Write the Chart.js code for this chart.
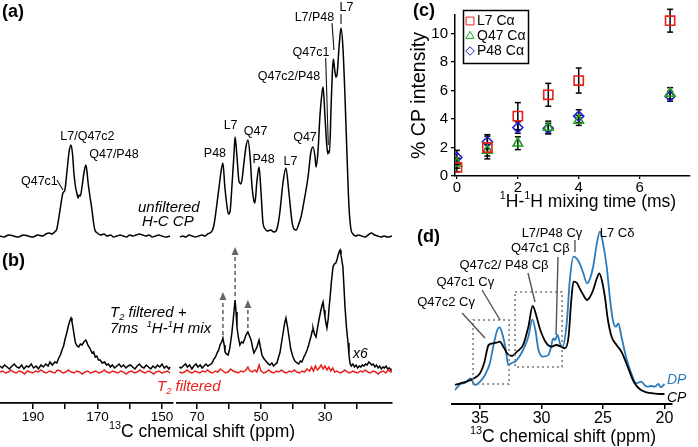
<!DOCTYPE html>
<html><head><meta charset="utf-8">
<script src="https://cdn.jsdelivr.net/npm/chart.js@4.4.1/dist/chart.umd.min.js"></script>
<style>
html,body{margin:0;padding:0;background:#fff;width:698px;height:447px;overflow:hidden}
canvas{position:absolute}
</style></head><body>
<canvas id="cL" width="400" height="447" style="left:0;top:0"></canvas>
<canvas id="cR" width="400" height="447" style="left:0;top:0"></canvas>
<canvas id="cC" width="298" height="230" style="left:400px;top:0"></canvas>
<canvas id="cD" width="298" height="222" style="left:400px;top:225px"></canvas>
<script>
// ---------------- DATA ----------------
// Panel (a): unfiltered H-C CP spectrum, [ppm, intensity]
const aLeft = [[200.2,1],[199,0],[197.5,2],[196,1],[194.5,0],[193,2],[191.5,1],[190,0],[188.5,2],[187,1],[186,3],[185,4],[184,3],[183.3,5],[182.6,8],[181.6,27],[180.7,44],[180.1,47],[179.5,64],[178.8,85],[178.2,92],[177.7,82],[177.3,64],[176.8,50],[176.4,44],[176.0,39],[175.7,42],[175.3,41],[174.8,50],[174.2,64],[173.6,72],[173.2,64],[172.9,54],[172.3,40],[171.7,27],[171.2,14],[170.8,7],[170,4],[169,2],[168,3],[167,1],[166,2],[165,0],[164,1],[163,2],[162,1],[161,0],[160,2],[159,1],[158,2],[157,3],[156,2],[155,1],[154,2],[153,0],[152,1],[151,2],[150,1],[149,0],[147.5,1]];
const aRight = [[75.3,0],[74.5,1],[73.5,0],[72.5,2],[71.5,1],[70.5,0],[69.5,1],[68.5,2],[67.5,1],[66.7,3],[66,4],[65.3,6],[64.7,12],[64.1,25],[63.1,50],[62.5,65],[61.9,74],[61.3,50],[60.6,30],[60.2,23],[59.7,25],[59.1,50],[58.4,85],[58.1,100],[57.5,80],[56.9,56],[56.6,54],[56.3,53],[55.9,58],[55.3,75],[54.7,90],[54.1,97],[53.4,80],[52.8,50],[52.2,36],[51.9,34],[51.3,55],[50.6,70],[50.0,45],[49.4,15],[48.7,8],[48,6],[47,7],[46,5],[45.3,6],[44.6,14],[44.1,25],[43.1,55],[42.2,69],[41.3,45],[40.3,15],[39.7,8],[39,7],[38.3,12],[37.5,20],[36.6,35],[35.3,60],[34.4,85],[33.75,90],[33.1,80],[32.8,70],[32.2,85],[31.6,120],[30.9,145],[30.6,150],[30.0,120],[29.4,90],[29.1,83],[28.9,86],[28.6,84],[28.1,130],[27.7,165],[27.4,178],[27.0,168],[26.6,160],[26.25,162],[25.6,190],[25.0,209],[24.4,190],[23.75,140],[23.1,80],[22.5,30],[21.9,8],[21.25,3],[20.5,1],[19.5,2],[18.5,1],[17.5,0],[16.5,2],[15.5,4],[14.5,2],[13.5,1],[12.5,0],[11.5,1],[10.5,0],[9,1]];
// Panel (b): T2 filtered + 7 ms 1H-1H mix (x6), [ppm, intensity]
const bLeft = [[200.2,1],[199.5,-1],[198.8,2],[198,0],[197.3,-2],[196.5,1],[195.8,3],[195,0],[194.3,-1],[193.5,2],[192.8,-2],[192,1],[191.3,0],[190.5,3],[189.8,-1],[189,1],[188.3,-2],[187.5,2],[186.8,0],[186,3],[185.3,1],[184.7,5],[184,2],[183.2,5],[182.6,4],[182,9],[181.5,12],[181,17],[180.5,21],[180.1,27],[179.6,33],[179.1,40],[178.6,46],[178.2,49],[177.9,45],[177.6,40],[177.2,31],[176.8,24],[176.3,21],[175.8,20],[175.3,23],[174.8,22],[174.2,25],[173.6,27],[173.3,25],[173,22],[172.4,19],[171.7,14],[171.2,15],[170.7,10],[170.2,11],[169.7,7],[169.2,7],[168.5,4],[167.8,5],[167.2,2],[166.6,3],[166,0],[165.4,2],[164.7,-1],[164,1],[163.3,3],[162.6,0],[161.9,2],[161.2,-1],[160.5,1],[159.8,2],[159.1,0],[158.4,-2],[157.7,1],[157,3],[156.3,0],[155.6,-1],[154.9,2],[154.2,0],[153.5,-2],[152.8,1],[152.1,-1],[151.4,2],[150.7,0],[150,3],[149.3,-1],[148.6,1],[147.9,-2],[147.5,0]];
const bRight = [[75.5,0],[75,-1],[74.3,1],[73.6,3],[73,0],[72.3,2],[71.6,-2],[71,1],[70.3,3],[69.7,0],[69,2],[68.4,-1],[67.8,1],[67.2,3],[66.6,1],[66,2],[65.3,4],[64.7,8],[64.2,10],[63.75,14],[63.2,17],[62.8,22],[62.3,25],[61.9,29],[61.5,22],[61.25,15],[60.8,13],[60.3,12],[59.8,18],[59.4,27],[59.1,34],[58.6,50],[58.1,67],[57.8,55],[57.5,40],[57.1,30],[56.6,22],[56.1,25],[55.6,24],[55.1,28],[54.7,32],[54.1,35],[53.6,31],[53.1,27],[52.6,19],[52.2,14],[51.7,17],[51.25,20],[50.9,24],[50.6,27],[50.2,20],[49.7,12],[49.2,9],[48.75,7],[48.2,5],[47.7,3],[47.2,2],[46.6,4],[46.1,1],[45.5,3],[45,4],[44.6,9],[44.1,14],[43.6,24],[43.1,34],[42.6,44],[42.2,49],[41.7,40],[41.25,30],[40.7,18],[40,10],[39.4,6],[38.75,4],[38.2,3],[37.7,6],[37.2,5],[36.6,10],[36.1,13],[35.6,17],[35.1,22],[34.7,27],[34.4,30],[34.0,36],[33.75,39],[33.3,33],[32.8,30],[32.4,38],[31.9,47],[31.4,55],[30.9,62],[30.6,65],[30.3,57],[30.0,50],[29.7,44],[29.4,39],[29.0,48],[28.7,60],[28.4,70],[28.0,85],[27.5,100],[27.1,103],[26.6,104],[26.2,108],[25.9,112],[25.6,115],[25.3,117],[25.0,112],[24.7,106],[24.4,100],[24.1,82],[23.75,60],[23.3,40],[22.8,24],[22.5,12],[22.2,4],[21.8,1],[21.3,3],[20.8,0],[20.3,2],[19.8,-1],[19.3,1],[18.8,0],[18.3,2],[17.8,1],[17.3,3],[16.8,2],[16.3,5],[15.9,4],[15.4,2],[14.9,3],[14.4,0],[13.9,2],[13.4,-1],[12.9,1],[12.4,-2],[11.9,0],[11.4,-1],[10.9,1],[10.4,-2],[9.9,-1],[9.4,-3],[9,-2]];
// Panel (b): T2 filtered only (red)
const t2Left = [[200.2,-5],[199.3,-4],[198.5,-6],[197.6,-5],[196.8,-3],[196,-5],[195.1,-6],[194.3,-4],[193.4,-5],[192.6,-7],[191.7,-4],[190.9,-5],[190,-6],[189.2,-4],[188.3,-5],[187.5,-3],[186.6,-5],[185.8,-6],[184.9,-4],[184.1,-5],[183.2,-6],[182.4,-3],[181.5,-4],[180.7,-6],[179.8,-5],[179,-3],[178.1,-5],[177.3,-6],[176.4,-4],[175.6,-5],[174.7,-7],[173.9,-5],[173,-4],[172.2,-6],[171.3,-5],[170.5,-4],[169.6,-6],[168.8,-5],[167.9,-3],[167.1,-5],[166.2,-6],[165.4,-4],[164.5,-5],[163.7,-6],[162.8,-4],[162,-5],[161.1,-7],[160.3,-5],[159.4,-4],[158.6,-6],[157.7,-5],[156.9,-3],[156,-5],[155.2,-6],[154.3,-4],[153.5,-5],[152.6,-7],[151.8,-5],[150.9,-4],[150.1,-6],[149.2,-5],[148.4,-4],[147.5,-6]];
const t2Right = [[75.5,-5],[74.7,-6],[73.9,-5],[73.1,-3],[72.3,-5],[71.5,-6],[70.7,-4],[69.9,-5],[69.1,-6],[68.3,-4],[67.5,-5],[66.7,-3],[65.9,-5],[65.1,-6],[64.3,-4],[63.5,-5],[62.7,-2],[61.9,-4],[61.1,-6],[60.3,-5],[59.5,-2],[58.7,-4],[57.9,-5],[57.1,-6],[56.3,-4],[55.5,-5],[54.7,-3],[54.1,0],[53.5,-4],[52.7,-5],[51.9,-3],[51.3,-5],[50.6,2],[50.0,-4],[49.2,-6],[48.4,-5],[47.6,-3],[46.8,-5],[46,-6],[45.2,-4],[44.4,-5],[43.6,-3],[42.8,-5],[42,-6],[41.2,-4],[40.4,-5],[39.6,-3],[38.8,-5],[38,-6],[37.2,-4],[36.4,-5],[35.6,-2],[34.8,-4],[34.2,0],[33.6,-4],[33,1],[32.4,-3],[31.8,-1],[31.2,2],[30.6,-2],[30,1],[29.4,-3],[28.8,0],[28.2,-4],[27.6,-1],[27,-5],[26.2,-4],[25.4,-6],[24.6,-5],[23.8,-3],[23,-5],[22.2,-6],[21.4,-4],[20.6,-5],[19.8,-6],[19,-4],[18.2,-5],[17.4,-3],[16.6,-5],[15.8,-6],[15,-4],[14.2,-5],[13.4,-7],[12.6,-5],[11.8,-4],[11,-6],[10.2,-3],[9.4,-5],[9,-2]];
// Panel (b) arrows: ppm, filtered height, unfiltered height
const arrowPpm = [61.9, 58.1, 54.1];
const arrowFrom = [30, 69, 37];
const arrowTo = [75, 120, 67];
// Panel (c): % CP intensity vs mixing time
const mixTime = [0, 1, 2, 3, 4, 7];
const L7ca = [0.6, 2.0, 4.2, 5.7, 6.7, 10.9];
const Q47ca = [0.9, 1.8, 2.3, 3.4, 3.9, 5.8];
const P48ca = [1.3, 2.4, 3.4, 3.35, 4.2, 5.6];
const L7err = [0.3, 0.8, 0.95, 0.8, 0.88, 0.8];
const Q47err = [0.35, 0.4, 0.45, 0.45, 0.35, 0.4];
const P48err = [0.5, 0.5, 0.4, 0.35, 0.45, 0.35];
// Panel (d): CP and DP spectra, [ppm, intensity]
const dCP = [[37.03,19],[36.6,20.7],[36.1,22.3],[35.5,25.7],[35.0,30.7],[34.67,40.7],[34.3,59],[33.9,60.7],[33.65,61.3],[33.4,62.3],[33.1,57.3],[32.8,50.7],[32.4,48],[32.0,52.3],[31.5,59],[31.07,77.3],[30.72,98],[30.4,87.3],[30.1,74],[29.6,60.7],[29.2,57.3],[28.8,59],[28.4,57.3],[28.1,55.7],[27.8,67.3],[27.6,100.7],[27.4,122.3],[27.1,120.7],[26.9,115.7],[26.6,109],[26.3,104],[26.05,107.3],[25.8,114],[25.5,125.7],[25.3,130.7],[25.1,124],[24.85,107.3],[24.6,84],[24.3,67.3],[23.9,59],[23.5,52.3],[23.1,40.7],[22.5,22.3],[22.0,14.7],[21.45,11.7],[20.9,10.7],[20.4,10],[20.0,10]];
const dDP = [[37.03,14],[36.6,20],[36.2,21.3],[35.8,25.7],[35.4,19],[35.0,22.3],[34.6,29],[34.2,40.7],[33.9,59],[33.6,74],[33.4,76.7],[33.2,70.7],[32.9,54],[32.7,39],[32.4,41.3],[32.15,42.3],[31.9,45.7],[31.5,54],[31.07,67.3],[30.75,84.7],[30.5,74],[30.25,54],[29.85,47.3],[29.45,49],[29.25,55.7],[29.05,65.7],[28.9,64],[28.7,69],[28.5,60.7],[28.3,57.3],[27.95,80.7],[27.7,124],[27.4,147.3],[27.15,145.7],[26.9,140.7],[26.6,130.7],[26.3,120.7],[26.1,124],[25.8,137.3],[25.5,160.7],[25.25,172.3],[25.0,160.7],[24.7,137.3],[24.45,107.3],[24.2,84],[23.95,77.3],[23.75,80.7],[23.5,67.3],[23.1,45.7],[22.7,30.7],[22.3,20.7],[21.9,22.3],[21.45,17.3],[21.05,18],[20.8,17.3],[20.5,20],[20.3,16.7],[20.0,20]];
// Tick values
const abTicksLeft = [190, 180, 170, 160, 150];
const abTicksRight = [70, 60, 50, 40, 30, 20];
const abTickLabels = [190, 170, 150, 70, 50, 30];
const cXTicks = [0, 2, 4, 6];
const cYTicks = [0, 2, 4, 6, 8, 10];
const dTicks = [35, 30, 25, 20];

// ---------------- ANNOTATION PLACEMENT ----------------
const aLeftPeakLabels = [['Q47c1',188.0,55],['L7/Q47c2',173.1,100],['Q47/P48',164.9,82]];
const aLeftLeaders = [[182.56,57,180.7,47]];
const aRightPeakLabels = [['P48',64.4,83],['L7',59.5,111],['Q47',51.7,105],['P48',49.2,77],['L7',40.8,75],['Q47',36.25,99],['Q47c2/P48',41.25,160],['Q47c1',34.4,184],['L7/P48',33.3,219],['L7',23.3,229]];
const aRightLeaders = [[29.78,179,28.97,92],[27.8,214,27.2,187],[25.0,223,25.0,213]];
const dLabels = [['L7/P48 C\u03b3',29.15,171],['L7 C\u03b4',23.86,171],['Q47c1 C\u03b2',30.1,156],['Q47c2/ P48 C\u03b2',33.05,139],['Q47c1 C\u03b3',36.2,122],['Q47c2 C\u03b3',37.76,102]];
const dLeaders = [[36.46,91,34.6,66],[34.84,114,33.37,84],[31.1,131,30.53,102],[28.66,147,28.82,69],[27.28,164,27.28,152]];
const dBoxes = [[35.57,84,32.64,20],[32.15,112,28.33,37]];

// ---------------- HELPERS ----------------
const FONT = "'Liberation Sans', Arial, Helvetica, sans-serif";
Chart.defaults.font.family = FONT;
Chart.defaults.color = '#000';
Chart.defaults.animation = false;
const RED = '#e8201a', GREEN = '#1f9e1f', BLUE = '#1c1cc8', DPBLUE = '#2a7bbb';

function parseRich(s){
  const out=[]; const re=/\^\{([^}]*)\}|_\{([^}]*)\}|([^^_]+)/g; let m;
  while((m=re.exec(s))){ if(m[1]!==undefined) out.push({t:m[1],sup:true}); else if(m[2]!==undefined) out.push({t:m[2],sub:true}); else out.push({t:m[3]}); }
  return out;
}
function richText(ctx, str, x, y, size, o={}){
  const align=o.align||'left', style=(o.italic?'italic ':'')+(o.bold?'bold ':'');
  const segs=parseRich(str);
  const parts=segs.map(s=>{const sz=(s.sup||s.sub)?size*0.62:size; ctx.font=style+sz+'px '+FONT; return {s,sz,w:ctx.measureText(s.t).width};});
  const total=parts.reduce((a,p)=>a+p.w,0);
  let cx = align==='center'? x-total/2 : align==='right'? x-total : x;
  ctx.save(); ctx.fillStyle=o.color||'#000'; ctx.textBaseline='middle'; ctx.textAlign='left';
  for(const p of parts){ ctx.font=style+p.sz+'px '+FONT; const dy=p.s.sup?-size*0.32:p.s.sub?size*0.3:0; ctx.fillText(p.s.t,cx,y+dy); cx+=p.w; }
  ctx.restore();
}
function line(ctx,x1,y1,x2,y2,color,w,dash){
  ctx.save(); ctx.strokeStyle=color; ctx.lineWidth=w; if(dash) ctx.setLineDash(dash);
  ctx.beginPath(); ctx.moveTo(x1,y1); ctx.lineTo(x2,y2); ctx.stroke(); ctx.restore();
}
const xy = arr => arr.map(p=>({x:p[0],y:p[1]}));
function specDs(arr, axis, color, smooth){
  return {data:xy(arr), yAxisID:axis, borderColor:color, borderWidth:1.5, pointRadius:0, fill:false,
    tension: 0, cubicInterpolationMode: smooth?'monotone':'default'};
}
function abXScale(min,max,ticks){
  return {type:'linear', reverse:true, min, max, position:'bottom',
    afterBuildTicks:s=>{s.ticks=ticks.map(v=>({value:v}));},
    afterFit:s=>{s.height=44;},
    grid:{drawOnChartArea:false, drawTicks:true, tickLength:6, color:'#000', lineWidth:1.5},
    border:{display:true, color:'#000', width:1.8},
    ticks:{autoSkip:false, maxRotation:0, padding:0, font:{size:13.5}, color:'#000',
      callback:v=>abTickLabels.includes(v)?String(v):''}};
}
const hiddenY = (min,max)=>({display:false, min, max});

// ---------------- PANEL (a)/(b) LEFT ----------------
new Chart(document.getElementById('cL'), {
  type:'line',
  data:{datasets:[specDs(t2Left,'yb',RED,false), specDs(bLeft,'yb','#000',false), specDs(aLeft,'ya','#000',true)]},
  options:{responsive:false, animation:false, events:[],
    layout:{padding:{left:0,right:227,top:0,bottom:0}},
    scales:{x:abXScale(146.6,200.2,abTicksLeft), ya:hiddenY(-166,237), yb:hiddenY(-36,367)},
    plugins:{legend:{display:false}, tooltip:{enabled:false}}},
  plugins:[{id:'annL', afterDraw(chart){
    const ctx=chart.ctx, x=chart.scales.x, ya=chart.scales.ya;
    aLeftPeakLabels.forEach(l=>richText(ctx,l[0],x.getPixelForValue(l[1]),ya.getPixelForValue(l[2]),12.5,{align:'center'}));
    aLeftLeaders.forEach(l=>line(ctx,x.getPixelForValue(l[0]),ya.getPixelForValue(l[1]),x.getPixelForValue(l[2]),ya.getPixelForValue(l[3]),'#111',1.1));
    richText(ctx,'(a)',2,12,18,{bold:true});
    richText(ctx,'(b)',2,261,18,{bold:true});
    richText(ctx,'unfiltered',138,208,15,{italic:true});
    richText(ctx,'H-C CP',142,222,15,{italic:true});
    richText(ctx,'T_{2} filtered +',110,313,15,{italic:true});
    richText(ctx,'7ms  ^{1}H-^{1}H mix',110,329,15,{italic:true});
    richText(ctx,'T_{2} filtered',157,387,15,{italic:true,color:RED});
    richText(ctx,'^{13}C chemical shift (ppm)',202,432,17.5,{align:'center'});
  }}]
});

// ---------------- PANEL (a)/(b) RIGHT ----------------
new Chart(document.getElementById('cR'), {
  type:'line',
  data:{datasets:[specDs(t2Right,'yb',RED,false), specDs(bRight,'yb','#000',false), specDs(aRight,'ya','#000',true)]},
  options:{responsive:false, animation:false, events:[],
    layout:{padding:{left:177,right:8,top:0,bottom:0}},
    scales:{x:abXScale(9.06,76.25,abTicksRight), ya:hiddenY(-166,237), yb:hiddenY(-36,367)},
    plugins:{legend:{display:false}, tooltip:{enabled:false}}},
  plugins:[{id:'annR', afterDraw(chart){
    const ctx=chart.ctx, x=chart.scales.x, ya=chart.scales.ya, yb=chart.scales.yb;
    aRightPeakLabels.forEach(l=>richText(ctx,l[0],x.getPixelForValue(l[1]),ya.getPixelForValue(l[2]),12.5,{align:'center'}));
    aRightLeaders.forEach(l=>line(ctx,x.getPixelForValue(l[0]),ya.getPixelForValue(l[1]),x.getPixelForValue(l[2]),ya.getPixelForValue(l[3]),'#111',1.1));
    arrowPpm.forEach((p,i)=>{
      const px=x.getPixelForValue(p), y1=yb.getPixelForValue(arrowFrom[i]), y2=yb.getPixelForValue(arrowTo[i]);
      line(ctx,px,y1-2,px,y2+6,'#666',1.6,[4,3]);
      ctx.save(); ctx.fillStyle='#666'; ctx.beginPath(); ctx.moveTo(px,y2); ctx.lineTo(px-3.5,y2+8); ctx.lineTo(px+3.5,y2+8); ctx.closePath(); ctx.fill(); ctx.restore();
    });
    richText(ctx,'x6',353,354,14,{italic:true});
  }}]
});

// ---------------- PANEL (c) ----------------
const errorBarPlugin = {id:'errbars', beforeDatasetsDraw(chart){
  const ctx=chart.ctx, xs=chart.scales.x, ys=chart.scales.y;
  chart.data.datasets.forEach(ds=>{
    ds.data.forEach((pt,i)=>{
      const e=ds.errors[i], px=xs.getPixelForValue(pt.x), yt=ys.getPixelForValue(pt.y+e), yl=ys.getPixelForValue(pt.y-e);
      line(ctx,px,yt,px,yl,'#000',1.5); line(ctx,px-3,yt,px+3,yt,'#000',1.5); line(ctx,px-3,yl,px+3,yl,'#000',1.5);
    });
  });
}};
function cDs(label,vals,errs,color,style,r){
  return {label, data:mixTime.map((t,i)=>({x:t,y:vals[i]})), errors:errs, pointStyle:style, pointRadius:r,
    pointBorderColor:color, borderColor:color, pointBackgroundColor:'rgba(255,255,255,0)', backgroundColor:'rgba(255,255,255,0)',
    pointBorderWidth:1.6, showLine:false};
}
new Chart(document.getElementById('cC'), {
  type:'scatter',
  data:{datasets:[cDs('L7 C\u03b1',L7ca,L7err,RED,'rect',6.5), cDs('Q47 C\u03b1',Q47ca,Q47err,GREEN,'triangle',5.5), cDs('P48 C\u03b1',P48ca,P48err,BLUE,'rectRot',5)]},
  options:{responsive:false, animation:false, events:[],
    layout:{padding:{left:0,right:0,top:15,bottom:0}},
    scales:{
      x:{type:'linear', min:-0.063, max:7.65,
        afterBuildTicks:s=>{s.ticks=cXTicks.map(v=>({value:v}));}, afterFit:s=>{s.height=54;},
        grid:{drawOnChartArea:false, tickLength:3, color:'#000', lineWidth:1.3},
        border:{color:'#000', width:1.5},
        ticks:{padding:0, font:{size:15}, color:'#000', maxRotation:0, autoSkip:false}},
      y:{type:'linear', min:0, max:11.3,
        afterBuildTicks:s=>{s.ticks=cYTicks.map(v=>({value:v}));}, afterFit:s=>{s.width=55;},
        grid:{drawOnChartArea:false, tickLength:4, color:'#000', lineWidth:1.3},
        border:{color:'#000', width:1.5},
        ticks:{padding:3, font:{size:15}, color:'#000'},
        title:{display:true, text:'% CP intensity', font:{size:19.5}, color:'#000', padding:{top:8,bottom:0}}}
    },
    plugins:{legend:{display:false}, tooltip:{enabled:false}}},
  plugins:[errorBarPlugin, {id:'annC', afterDraw(chart){
    const ctx=chart.ctx;
    ctx.save(); ctx.strokeStyle='#000'; ctx.lineWidth=1.5; ctx.strokeRect(63.5,10.5,65,53); ctx.restore();
    chart.data.datasets.forEach((ds,i)=>{
      const y=21+15*i;
      ctx.save(); ctx.strokeStyle=ds.pointBorderColor; ctx.fillStyle='rgba(255,255,255,0)';
      Chart.helpers.drawPoint(ctx,{pointStyle:ds.pointStyle, radius:ds.pointRadius*0.85, borderWidth:1.6, rotation:0},70,y);
      ctx.restore();
      richText(ctx,ds.label,77,y,14);
    });
    richText(ctx,'(c)',13,11,18,{bold:true});
    richText(ctx,'^{1}H-^{1}H mixing time (ms)',188,202,17.5,{align:'center'});
  }}]
});

// ---------------- PANEL (d) ----------------
function dDs(arr,color){ return {data:xy(arr), borderColor:color, borderWidth:1.8, pointRadius:0, fill:false, cubicInterpolationMode:'monotone'}; }
new Chart(document.getElementById('cD'), {
  type:'line',
  data:{datasets:[dDs(dCP,'#000'), dDs(dDP,DPBLUE)]},
  options:{responsive:false, animation:false, events:[],
    layout:{padding:{left:52,right:26,top:0,bottom:0}},
    scales:{
      x:{type:'linear', reverse:true, min:19.39, max:37.28,
        afterBuildTicks:s=>{s.ticks=dTicks.map(v=>({value:v}));}, afterFit:s=>{s.height=43;},
        grid:{drawOnChartArea:false, tickLength:5, color:'#000', lineWidth:1.5},
        border:{color:'#000', width:2},
        ticks:{padding:0, font:{size:16}, color:'#000', maxRotation:0, autoSkip:false}},
      y:{display:false, min:0, max:179}
    },
    plugins:{legend:{display:false}, tooltip:{enabled:false}}},
  plugins:[{id:'annD', afterDraw(chart){
    const ctx=chart.ctx, x=chart.scales.x, y=chart.scales.y;
    dBoxes.forEach(b=>{
      const x1=x.getPixelForValue(b[0]), y1=y.getPixelForValue(b[1]), x2=x.getPixelForValue(b[2]), y2=y.getPixelForValue(b[3]);
      ctx.save(); ctx.strokeStyle='#777'; ctx.lineWidth=1.5; ctx.setLineDash([2,3]); ctx.strokeRect(x1,y1,x2-x1,y2-y1); ctx.restore();
    });
    dLeaders.forEach(l=>line(ctx,x.getPixelForValue(l[0]),y.getPixelForValue(l[1]),x.getPixelForValue(l[2]),y.getPixelForValue(l[3]),'#555',1.4));
    dLabels.forEach(l=>richText(ctx,l[0],x.getPixelForValue(l[1]),y.getPixelForValue(l[2]),13,{align:'center'}));
    richText(ctx,'DP',267,155,14,{italic:true,color:DPBLUE});
    richText(ctx,'CP',267,173,14,{italic:true});
    richText(ctx,'(d)',17,12,18,{bold:true});
    richText(ctx,'^{13}C chemical shift (ppm)',163,212,17.5,{align:'center'});
  }}]
});
</script>
</body></html>
